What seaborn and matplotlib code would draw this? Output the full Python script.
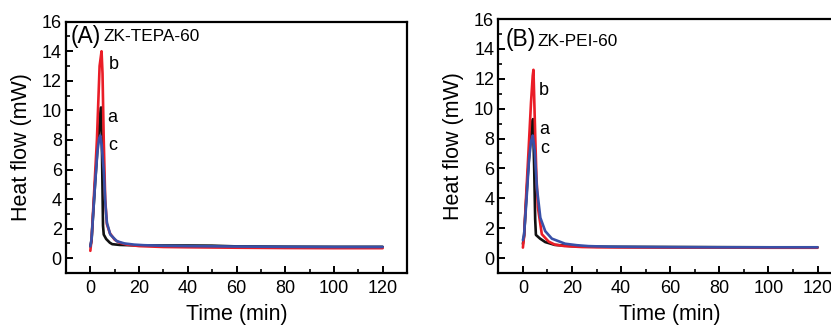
import numpy as np
import pandas as pd
import matplotlib
matplotlib.use("Agg")
import matplotlib.pyplot as plt
import seaborn as sns
from matplotlib.ticker import MultipleLocator

# Panel A: ZK-TEPA-60
a_time_A = [0, 0.5, 1, 2, 3, 3.9, 4.4, 4.8, 5.2, 5.5, 6.5, 8, 9, 12, 20, 30, 40, 50, 60, 80, 100, 120]
a_flow_A = [0.8, 1.2, 2.6, 5.2, 7.6, 9.4, 10.2, 7.0, 2.2, 1.6, 1.3, 1.05, 0.95, 0.9, 0.86, 0.86, 0.86, 0.85, 0.8, 0.78, 0.77, 0.77]
b_time_A = [0, 0.5, 1.4, 2.7, 3.8, 4.6, 5.0, 5.5, 6.1, 6.8, 8, 10, 12, 15, 20, 30, 40, 60, 80, 100, 120]
b_flow_A = [0.5, 1.3, 4.0, 8.0, 13.0, 14.0, 12.5, 8.0, 4.0, 2.3, 1.7, 1.25, 1.05, 0.92, 0.82, 0.76, 0.74, 0.71, 0.69, 0.68, 0.68]
c_time_A = [0, 0.5, 1.9, 2.9, 3.6, 4.1, 4.7, 5.5, 6.2, 6.8, 8.2, 10.9, 14, 18, 22, 30, 40, 60, 80, 100, 120]
c_flow_A = [0.8, 1.3, 4.9, 7.2, 8.1, 8.3, 7.6, 5.9, 3.6, 2.4, 1.6, 1.15, 1.0, 0.92, 0.88, 0.84, 0.82, 0.79, 0.77, 0.76, 0.76]

# Panel B: ZK-PEI-60
a_time_B = [0, 0.5, 1, 2, 3, 3.8, 4.1, 4.6, 5.0, 5.3, 7, 9.1, 13, 20, 30, 40, 60, 80, 100, 120]
a_flow_B = [0.95, 1.5, 3.0, 5.6, 7.8, 9.0, 9.3, 6.0, 2.6, 1.55, 1.3, 1.07, 0.88, 0.8, 0.76, 0.75, 0.74, 0.73, 0.72, 0.72]
b_time_B = [0, 0.5, 1.2, 2.3, 3.3, 4.0, 4.3, 5.0, 5.5, 6.1, 7.7, 10.5, 13, 17, 24, 30, 40, 60, 80, 100, 120]
b_flow_B = [0.7, 1.5, 3.8, 7.2, 10.4, 12.2, 12.6, 8.3, 5.5, 3.4, 1.6, 1.1, 0.9, 0.8, 0.74, 0.72, 0.71, 0.7, 0.7, 0.69, 0.69]
c_time_B = [0, 0.5, 1.5, 2.5, 3.3, 4.0, 4.8, 5.7, 7.1, 9.1, 11.8, 17.2, 22, 26.7, 35, 50, 60, 80, 100, 120]
c_flow_B = [1.2, 1.6, 4.0, 6.6, 7.8, 8.2, 7.2, 4.7, 2.7, 1.8, 1.3, 0.96, 0.86, 0.8, 0.76, 0.74, 0.73, 0.72, 0.72, 0.72]

samples = ["a", "b", "c"]
colors = {"a": "#111111", "b": "#ea1d27", "c": "#3850a8"}

panel_A = pd.concat([
    pd.DataFrame({"time": a_time_A, "flow": a_flow_A, "sample": "a"}),
    pd.DataFrame({"time": b_time_A, "flow": b_flow_A, "sample": "b"}),
    pd.DataFrame({"time": c_time_A, "flow": c_flow_A, "sample": "c"}),
], ignore_index=True)
panel_B = pd.concat([
    pd.DataFrame({"time": a_time_B, "flow": a_flow_B, "sample": "a"}),
    pd.DataFrame({"time": b_time_B, "flow": b_flow_B, "sample": "b"}),
    pd.DataFrame({"time": c_time_B, "flow": c_flow_B, "sample": "c"}),
], ignore_index=True)

# curve labels (time, flow) for each panel
label_pos_A = {"b": (7.5, 13.1), "a": (7.1, 9.5), "c": (7.5, 7.6)}
label_pos_B = {"b": (6.4, 11.2), "a": (6.6, 8.6), "c": (7.0, 7.3)}

sns.set_style("ticks")
plt.rcParams["font.family"] = ["Liberation Sans", "DejaVu Sans"]
plt.rcParams["text.color"] = "black"
plt.rcParams["axes.labelcolor"] = "black"
plt.rcParams["xtick.color"] = "black"
plt.rcParams["ytick.color"] = "black"

fig = plt.figure(figsize=(8.31, 3.25), dpi=100)
ax_A = fig.add_axes([0.0794, 0.16, 0.4104, 0.7732])
ax_B = fig.add_axes([0.5997, 0.16, 0.4136, 0.7815])

panels = [
    (ax_A, panel_A, label_pos_A, "(A)", "ZK-TEPA-60", (-8.2, 15.0), (5.2, 15.0)),
    (ax_B, panel_B, label_pos_B, "(B)", "ZK-PEI-60", (-6.9, 14.6), (6.1, 14.5)),
]

for ax, df, lbl_pos, tag, name, tag_xy, name_xy in panels:
    sns.lineplot(data=df, x="time", y="flow", hue="sample", hue_order=samples,
                 palette=colors, sort=False, estimator=None, linewidth=1.9,
                 legend=False, ax=ax)
    ax.set_xlim(-10, 130)
    ax.set_ylim(-1, 16)
    ax.xaxis.set_major_locator(MultipleLocator(20))
    ax.xaxis.set_minor_locator(MultipleLocator(10))
    ax.yaxis.set_major_locator(MultipleLocator(2))
    ax.yaxis.set_minor_locator(MultipleLocator(1))
    ax.set_xticks(np.arange(0, 121, 20))
    ax.set_yticks(np.arange(0, 17, 2))
    ax.tick_params(axis="both", which="major", direction="in", length=5, width=1.4,
                   labelsize=13, color="black", labelcolor="black")
    ax.tick_params(axis="both", which="minor", direction="in", length=3, width=1.2, color="black")
    ax.tick_params(axis="x", which="major", pad=5)
    ax.tick_params(axis="y", which="major", pad=3)
    for sp in ax.spines.values():
        sp.set_linewidth(1.6)
        sp.set_color("black")
    ax.set_xlabel("Time (min)", fontsize=15.5, labelpad=5, color="black")
    ax.set_ylabel("Heat flow (mW)", fontsize=15.5, labelpad=7, color="black")

    for s, (tx, ty) in lbl_pos.items():
        ax.text(tx, ty, s, fontsize=13, ha="left", va="center", color="black")
    ax.text(tag_xy[0], tag_xy[1], tag, fontsize=16.5, ha="left", va="center", color="black")
    ax.text(name_xy[0], name_xy[1], name, fontsize=12.4, ha="left", va="center", color="black")

fig.savefig("out.png", dpi=100)
